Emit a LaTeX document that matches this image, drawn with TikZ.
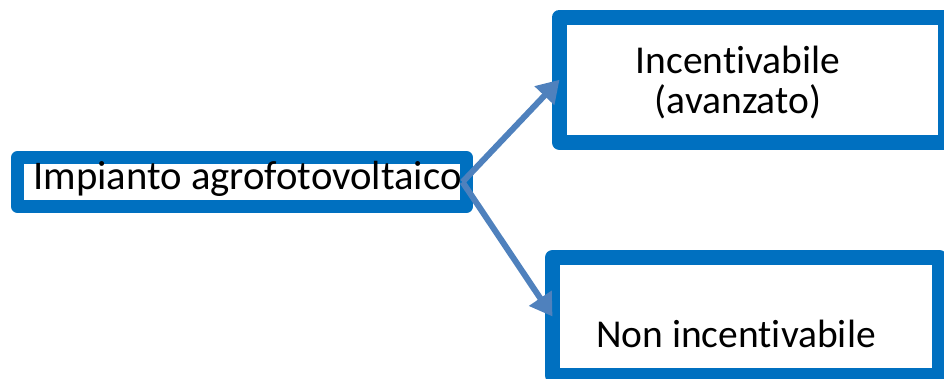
\documentclass[tikz,border=0pt]{standalone}
\usepackage{fontspec}
\setmainfont[Ligatures=NoCommon]{Carlito}
\definecolor{ppblue}{HTML}{0070C0}
\definecolor{pparrow}{HTML}{4F81BD}
\usetikzlibrary{arrows.meta}
\begin{document}
\begin{tikzpicture}[x=1pt,y=-1pt,
  box/.style={draw=ppblue,fill=white,line join=round,inner sep=0pt,outer sep=0pt},
  lab/.style={font=\fontsize{39.5}{40}\selectfont,align=center,inner sep=0pt,text=black},
  arr/.style={-{Triangle[length=22pt,width=26pt]},pparrow,line width=6pt}]
\useasboundingbox (0,0) rectangle (944,378);
\node[box,line width=13pt,minimum width=449pt,minimum height=49pt] (src) at (242,182) {};
\node[lab,font=\fontsize{40.7}{41}\selectfont,anchor=base] (srcTxt) at (247.5,189) {Impianto agrofotovoltaico};
\node[box,line width=15pt,minimum width=386pt,minimum height=125.5pt] (inc) at (752.5,79.75) {};
\node[lab,anchor=base] (incTxt) at (738,113) {Incentivabile\\(avanzato)};
\node[box,line width=15pt,minimum width=387pt,minimum height=118pt] (non) at (746,316.5) {};
\node[lab,anchor=base] (nonTxt) at (736,347) {Non incentivabile};
\draw[arr] ([xshift=-4pt]src.east) -- (inc.west);
\draw[arr] ([xshift=-4pt]src.east) -- (non.west);
\end{tikzpicture}
\end{document}
